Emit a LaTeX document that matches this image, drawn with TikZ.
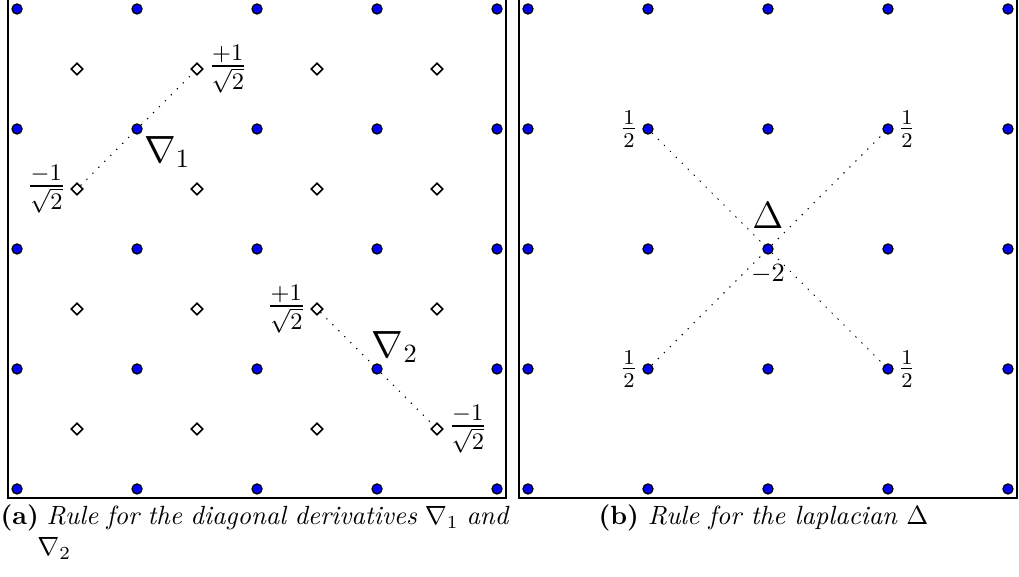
\documentclass[tikz,border=0pt]{standalone}
\usepackage{amsmath, amssymb}
\usetikzlibrary{positioning,shapes.geometric}

\begin{document}
\begin{tikzpicture}[
  x=1.6cm, y=1.6cm,
  node distance=0pt,
  grid/.style={circle, draw, fill=blue, line width=0.5pt, minimum size=3.8pt, inner sep=0pt},
  half/.style={diamond, draw, fill=white, line width=0.6pt, minimum size=4.6pt, inner sep=0pt},
  rule/.style={dash pattern=on 0.5pt off 2.7pt},
  panel/.style={draw, line width=0.8pt},
  big/.style={inner sep=1pt, font=\Large},
  coef/.style={inner sep=1.5pt, font=\fontsize{13.5}{16}\selectfont},
  half coef/.style={inner sep=1.5pt, font=\fontsize{11.5}{14}\selectfont}
]
\useasboundingbox (-0.142,-0.733) rectangle (8.350,4.075);

% Frames of the two panels
\draw[panel] (-0.075,-0.075) rectangle (4.075,4.085);
\draw[panel] (4.183,-0.075) rectangle (8.333,4.085);

% Grid points (left and right)
\foreach \i in {0,...,4} {
  \foreach \j in {0,...,4} {
    \node[grid] (l-\i-\j) at (\i,\j) {};
    \node[grid] (r-\i-\j) at (4.258+\i,\j) {};
  }
}

% Half-step points (left)
\foreach \i in {0,...,3} {
  \foreach \j in {0,...,3} {
    \node[half] (h-\i-\j) at (\i+0.5,\j+0.5) {};
  }
}

% Diagonal derivative nabla_1
\draw[rule] (h-0-2) -- (l-1-3) -- (h-1-3);
\node[big, below right=0pt and 0pt of l-1-3] (nab1) {$\nabla_1$};
\node[coef, right=0pt of h-1-3] (nab1p) {$\frac{+1}{\sqrt{2}}$};
\node[coef, left=0pt of h-0-2] (nab1m) {$\frac{-1}{\sqrt{2}}$};

% Diagonal derivative nabla_2
\draw[rule] (h-2-1) -- (l-3-1) -- (h-3-0);
\node[big, inner sep=0pt, above=0pt of l-3-1, xshift=6.8pt] (nab2) {$\nabla_2$};
\node[coef, left=0pt of h-2-1] (nab2p) {$\frac{+1}{\sqrt{2}}$};
\node[coef, right=0pt of h-3-0] (nab2m) {$\frac{-1}{\sqrt{2}}$};

% Laplacian
\draw[rule] (r-1-3) -- (r-2-2) -- (r-3-1);
\draw[rule] (r-1-1) -- (r-2-2) -- (r-3-3);
\node[big, above=4.3pt of r-2-2] (lap) {$\Delta$};
\node[inner sep=1pt, below=2.4pt of r-2-2] (lapc) {$-2$};
\node[half coef, left=0pt of r-1-3] (lapnw) {$\frac{1}{2}$};
\node[half coef, right=0pt of r-3-3] (lapne) {$\frac{1}{2}$};
\node[half coef, left=0pt of r-1-1] (lapsw) {$\frac{1}{2}$};
\node[half coef, right=0pt of r-3-1] (lapse) {$\frac{1}{2}$};

% Captions
\node[anchor=north west, inner sep=0pt, text width=6.77cm, align=justify] (capa) at (-0.142,-0.125)
  {\noindent\hangindent=14pt\hangafter=1 \textbf{(a)} \textit{Rule for the diagonal derivatives} $\nabla_1$ \textit{and} $\nabla_2$\par};
\node[anchor=north west, inner sep=0pt] (capb) at (4.842,-0.125)
  {\textbf{(b)} \textit{Rule for the laplacian} $\Delta$};

\end{tikzpicture}
\end{document}
